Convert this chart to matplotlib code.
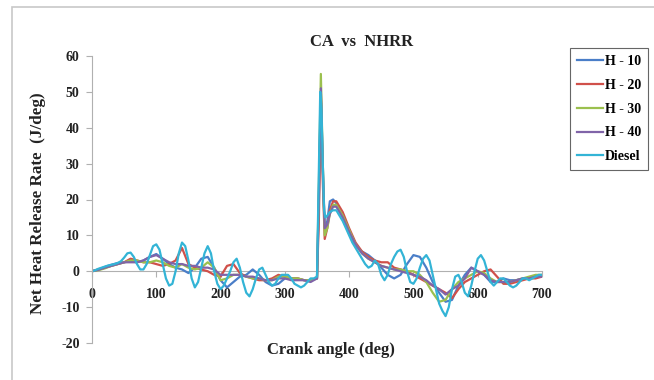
import matplotlib.pyplot as plt
from matplotlib.patches import Rectangle

# crank angle grid used for the H blends (extra points around the spike)
angle_h = list(range(0, 360, 10)) + [353, 356, 359, 362, 366, 370, 375, 380] + list(range(390, 710, 10))

h10 = [0, 0.5, 1.2, 1.8, 2.3, 2.5, 2.8, 2.5, 3, 4, 4.8, 3.5, 2, 1, 0.5, -0.5, 1, 3.5, 4, 1,
       -2.5, -4.5, -3, -1.5, -1, 0.5, -1, -3, -4, -3.5, -2, -2, -2, -2.5, -2.5, -2,
       20, 50, 30, 12, 14, 19.5, 20, 19,
       15, 10.5, 7, 5.5, 4.5, 3, 1, -1, -2, -1, 2, 4.5, 4, 1, -3, -6, -8.5, -8, -4, -1,
       1, 0, -1, -3, -3, -2, -2.5, -2.5, -2, -2, -1.5, -1.5]
h20 = [0, 0.5, 1, 1.5, 2, 2.5, 3.5, 3, 2.5, 2.5, 2, 1.5, 2, 3, 6.5, 2, 1, 0.5, 0, -1,
       -1.5, 1.5, 2, -0.5, -1.5, -2, -2.5, -2.5, -2, -1, -1.5, -2, -2, -2.5, -2.5, -2,
       15, 49, 25, 9, 12, 17, 19.5, 19.5,
       16.5, 12, 8, 5.5, 4, 3, 2.5, 2.5, 1, 0.5, 0, -1, -2, -3, -4, -5, -6, -7.5, -5, -3,
       -2, -1, 0, 0.5, -1.5, -3.5, -3.5, -3, -2.5, -2, -2, -1.5]
h30 = [0, 0.3, 0.8, 1.5, 2, 2.5, 3, 3, 2.5, 2.5, 3, 2.5, 1.5, 1, 2, 1, 0.5, 1, 2.5, 1,
       -2.5, -2, -1, -1, -1.5, -2, -2, -2.5, -2.5, -1.5, -1.5, -2, -2, -2.5, -2.5, -2,
       25, 55, 30, 10, 12, 16, 18.5, 18.5,
       15.5, 11.5, 7.5, 5, 3.5, 2.5, 1.5, 1, 0.5, 0.5, 0, 0, -1, -3, -6, -8.5, -8, -5, -3, -2,
       -1, 0, -0.5, -2, -3, -3, -3, -2.5, -2, -1.5, -1, -1]
h40 = [0, 0.4, 1, 1.5, 2, 2.5, 2.5, 2.5, 3, 4, 4.5, 3.5, 2.5, 2, 2, 1.5, 1.5, 1, 1, 0.5,
       -1, -1, -1, -1, -1.5, -1.5, -2, -2.5, -2.5, -2, -2, -2.5, -2.5, -2.5, -3, -2,
       22, 51, 28, 12, 13, 16, 18, 18,
       15, 11, 7.5, 5, 3.5, 2.5, 1.5, 1, 0.5, 0, -0.5, -1, -1.5, -2.5, -4, -5, -6.5, -5, -4, -2,
       1, 0, -1, -2.5, -3, -3, -3, -2.5, -2, -2, -1.5, -1.5]

# diesel oscillates more, so it is read on a finer grid
angle_d = list(range(0, 355, 5)) + [353, 355, 357, 359, 361, 363, 366] + list(range(370, 705, 5))
diesel = [0, 0.3, 0.7, 1, 1.3, 1.6, 1.8, 2, 2.3, 2.8, 3.8, 5, 5.2, 4, 2, 0.5, 0.5, 2, 4.5, 7,
          7.5, 6, 2, -2, -4, -3.5, 0, 5, 8, 7, 3, -2, -4.5, -3, 1, 5, 7, 5, 0, -3.5,
          -5, -4, -2, 0, 2.5, 3.5, 1, -3, -6, -7, -5, -2, 0.5, 1, -1, -3, -4, -3.5, -2, -1,
          -1, -1, -2, -3.5, -4, -4.5, -4, -3, -2, -2, -1.5,
          30, 50, 45, 30, 17, 15, 15.5,
          16.5, 17, 17, 15.5, 14, 12, 10, 8, 6.5, 5, 3.5, 2, 1, 1.5, 3, 2, -1, -2.5, -1, 2,
          4, 5.5, 6, 4, 0, -3, -3.5, -2, 1, 3.5, 4.5, 3, -1, -5, -9, -11, -12.5, -10, -5, -1.5,
          -1, -3, -6, -7, -4, 0, 3.5, 4.5, 3, 0, -3, -4, -3, -2, -2, -3, -4, -4.5, -4, -3,
          -2, -2, -2.5, -2, -1.5, -1, -1]

series = [("H - 10", angle_h, h10, "#4a7ec8"),
          ("H - 20", angle_h, h20, "#d0504a"),
          ("H - 30", angle_h, h30, "#9bc04e"),
          ("H - 40", angle_h, h40, "#8064a8"),
          ("Diesel", angle_d, diesel, "#33b4d6")]

plt.rcParams['font.family'] = ['Liberation Serif', 'DejaVu Serif']
plt.rcParams['font.weight'] = 'bold'
plt.rcParams['axes.unicode_minus'] = False

fig = plt.figure(figsize=(6.54, 3.8), dpi=100)
ax = fig.add_axes([92 / 654, 1 - 343 / 380, 450 / 654, 287 / 380])

for name, xs, ys, col in series:
    ax.plot(xs, ys, color=col, linewidth=1.6, label=name)

ax.set_xlim(0, 700)
ax.set_ylim(-20, 60)
ax.set_xticks(range(0, 800, 100))
ax.set_yticks(range(-20, 70, 10))

for s in ["top", "right"]:
    ax.spines[s].set_visible(False)
ax.spines["bottom"].set_position(("data", 0))
ax.spines["bottom"].set_color("#b0b0b0")
ax.spines["left"].set_color("#b0b0b0")
ax.spines["bottom"].set_zorder(0)
ax.tick_params(axis="both", colors="#b0b0b0", labelcolor="#222222", labelsize=10,
               length=4, width=0.8)
ax.tick_params(axis="x", pad=8)
ax.tick_params(axis="y", pad=5)
for lab in ax.get_xticklabels() + ax.get_yticklabels():
    lab.set_fontweight("bold")

fig.text(362 / 654, 1 - 42 / 380, "CA  vs  NHRR", ha="center", va="center",
         fontsize=12, fontweight="bold", color="#222222")
fig.text(331 / 654, 1 - 350 / 380, "Crank angle (deg)", ha="center", va="center",
         fontsize=12, fontweight="bold", color="#222222")
fig.text(38 / 654, 1 - 203 / 380, "Net Heat Release Rate  (J/deg)", ha="center", va="center",
         rotation=90, fontsize=12.3, fontweight="bold", color="#222222")

leg = fig.legend(loc="upper left", bbox_to_anchor=(570 / 654, 1 - 48 / 380),
                 frameon=True, fancybox=False, fontsize=10, handlelength=1.9,
                 handletextpad=0.1, borderpad=0.5, labelspacing=0.78, borderaxespad=0)
leg.get_frame().set_edgecolor("#404040")
leg.get_frame().set_linewidth(0.8)
for t in leg.get_texts():
    t.set_fontweight("bold")

# light outer frame of the chart area
fig.patches.append(Rectangle((12 / 654, -0.1), 1.2, 1.1 - 7 / 380,
                             transform=fig.transFigure, fill=False,
                             edgecolor="#c8c8c8", linewidth=1.2))

fig.savefig("out.png", dpi=100)
